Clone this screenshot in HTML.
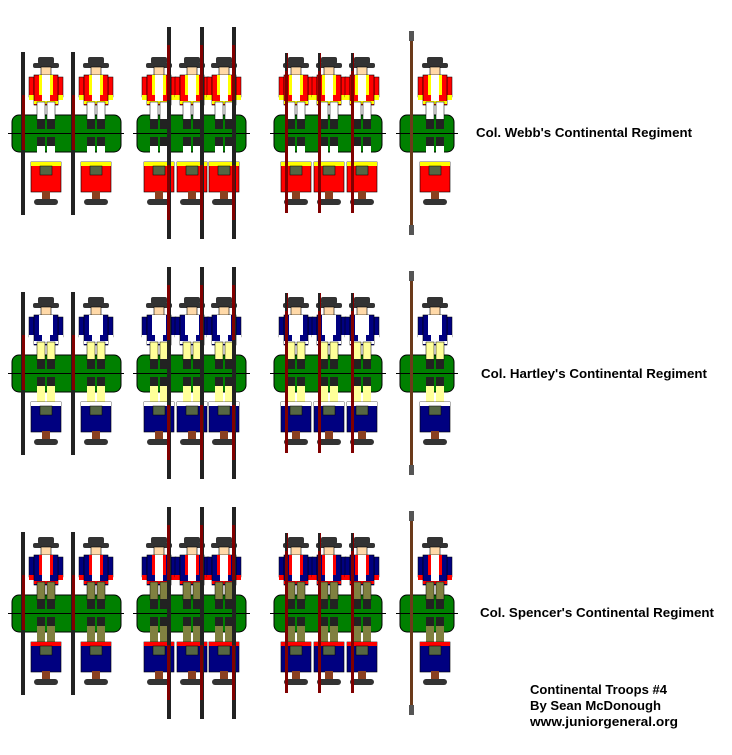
<!DOCTYPE html>
<html><head><meta charset="utf-8"><style>
html,body{margin:0;padding:0;background:#fff;}
svg{display:block}
text{font-family:"Liberation Sans",Arial,sans-serif;font-weight:bold;font-size:13px;fill:#000}
</style></head><body>
<svg width="732" height="755" viewBox="0 0 732 755" xmlns="http://www.w3.org/2000/svg">
<defs>
 <g id="fig">
  <rect x="-13" y="-70" width="26" height="5" rx="2" fill="#333"/>
  <rect x="-8" y="-76" width="16" height="7" rx="2" fill="#333"/>
  <rect x="-5" y="-66" width="10" height="9" fill="#ffd9a8" stroke="#000" stroke-width="0.6"/>
  <rect x="-17" y="-56" width="5" height="20" fill="var(--coat)" stroke="#000" stroke-width="0.5"/>
  <rect x="12" y="-56" width="5" height="20" fill="var(--coat)" stroke="#000" stroke-width="0.5"/>
  <rect x="-17" y="-38" width="5" height="5" fill="var(--fc)"/>
  <rect x="12" y="-38" width="5" height="5" fill="var(--fc)"/>
  <rect x="-12" y="-58" width="24" height="30" fill="var(--coat)" stroke="#000" stroke-width="0.6"/>
  <rect x="-7" y="-58" width="3" height="20" fill="var(--fc)"/>
  <rect x="4" y="-58" width="3" height="20" fill="var(--fc)"/>
  <rect x="-4" y="-58" width="8" height="28" fill="#fff"/>
  <rect x="-12" y="-32" width="24" height="3" fill="var(--fc)"/>
  <rect x="-9" y="-31" width="8" height="18" fill="var(--br)" stroke="#000" stroke-width="0.5"/>
  <rect x="1" y="-31" width="8" height="18" fill="var(--br)" stroke="#000" stroke-width="0.5"/>
  <rect x="-9" y="-14" width="8" height="10" fill="#222"/>
  <rect x="1" y="-14" width="8" height="10" fill="#222"/>
 </g>
 <g id="back">
  <rect x="-9" y="4" width="8" height="10" fill="#222"/>
  <rect x="1" y="4" width="8" height="10" fill="#222"/>
  <rect x="-9" y="13" width="8" height="18" fill="var(--br)"/>
  <rect x="1" y="13" width="8" height="18" fill="var(--br)"/>
  <rect x="-15" y="29" width="30" height="30" fill="var(--coat)" stroke="#000" stroke-width="0.6"/>
  <rect x="-15" y="29" width="30" height="4" fill="var(--fc)"/>
  <rect x="-6" y="33" width="12" height="9" fill="#556644" stroke="#000" stroke-width="0.5"/>
  <rect x="-4" y="58" width="8" height="8" fill="#8a4020"/>
  <rect x="-12" y="66" width="24" height="6" rx="3" fill="#333"/>
 </g>
</defs>
</svg>
<script>
(function(){
 var svg=document.querySelector('svg');
 var rows=[{y:133,c:'#f00',f:'#ff0',b:'#fff'},{y:373,c:'#000080',f:'#fff',b:'#ffff99'},{y:613,c:'#000080',f:'#f00',b:'#808040'}];
 var h='';
 rows.forEach(function(r,i){
  var st='--coat:'+r.c+';--fc:'+r.f+';--br:'+r.b;
  h+='<g style="'+st+'" transform="translate(0,'+(r.y-133)+')">';
  h+='<g fill="#008000" stroke="#000"><rect x="12" y="115" width="109" height="37" rx="7"/><rect x="137" y="115" width="109" height="37" rx="7"/><rect x="274" y="115" width="108" height="37" rx="7"/><rect x="400" y="115" width="54" height="37" rx="7"/></g>';
  h+='<g stroke="#000"><line x1="8" y1="133.5" x2="124" y2="133.5"/><line x1="133" y1="133.5" x2="250" y2="133.5"/><line x1="270" y1="133.5" x2="386" y2="133.5"/><line x1="396" y1="133.5" x2="458" y2="133.5"/></g>';
  [46,96].forEach(function(x){h+='<use href="#fig" transform="translate('+x+',133)"/><use href="#back" transform="translate('+x+',133)"/><rect x="21" y="52" width="4" height="163" fill="#222" transform="translate('+(x-46)+',0)"/><rect x="22" y="95" width="3" height="55" fill="#800000" transform="translate('+(x-46)+',0)"/>';});
  [159,192,224].forEach(function(x){h+='<use href="#fig" transform="translate('+x+',133)"/><use href="#back" transform="translate('+x+',133)"/><rect x="'+(x+8)+'" y="27" width="4" height="212" fill="#222"/><rect x="'+(x+8)+'" y="45" width="3" height="55" fill="#800000"/><rect x="'+(x+8)+'" y="165" width="3" height="55" fill="#800000"/>';});
  [296,329,362].forEach(function(x){h+='<use href="#fig" transform="translate('+x+',133)"/><use href="#back" transform="translate('+x+',133)"/><rect x="'+(x-11)+'" y="53" width="3" height="160" fill="#800000"/><rect x="'+(x-11)+'" y="53" width="2" height="18" fill="#222"/>';});
  h+='<use href="#fig" transform="translate(435,133)"/><use href="#back" transform="translate(435,133)"/><rect x="410" y="31" width="3" height="204" fill="#6b3a1a"/><rect x="409" y="31" width="5" height="10" fill="#555"/><rect x="409" y="225" width="5" height="10" fill="#555"/>';
  h+='</g>';
 });
 var labels=[["Col. Webb's Continental Regiment",476,137,216],["Col. Hartley's Continental Regiment",481,378,226],["Col. Spencer's Continental Regiment",480,617,234]];
 labels.forEach(function(l){h+='<text x="'+l[1]+'" y="'+l[2]+'" textLength="'+l[3]+'" lengthAdjust="spacingAndGlyphs">'+l[0].replace("'","&#39;")+'</text>';});
 h+='<text x="530" y="694" textLength="137" lengthAdjust="spacingAndGlyphs">Continental Troops #4</text>';
 h+='<text x="530" y="710" textLength="131" lengthAdjust="spacingAndGlyphs">By Sean McDonough</text>';
 h+='<text x="530" y="726" textLength="148" lengthAdjust="spacingAndGlyphs">www.juniorgeneral.org</text>';
 svg.insertAdjacentHTML('beforeend',h);
})();
</script>
</body></html>
